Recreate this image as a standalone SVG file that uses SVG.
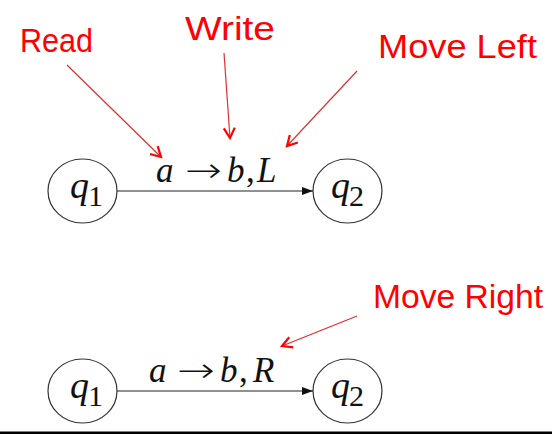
<svg xmlns="http://www.w3.org/2000/svg" width="552" height="434" viewBox="0 0 552 434">
<defs>
<style>
.st{fill:none;stroke:#333;stroke-width:1.2}
.qt{font-family:"Liberation Serif","DejaVu Serif",serif;fill:#111}
.q{font-style:italic;font-size:38px}
.sub{font-size:30px}
.lab{font-family:"Liberation Serif","DejaVu Serif",serif;font-size:35px;fill:#111}
.it{font-style:italic}
.arr{font-family:"DejaVu Sans",sans-serif;font-size:34px;font-weight:200;font-style:normal;fill:#111}
.edge{stroke:#222;stroke-width:1.2;fill:none}
.ann{font-family:"Liberation Sans","DejaVu Sans",sans-serif;font-size:34px;fill:#ff0000}
.rl{stroke:#e03030;stroke-width:1.2;fill:none}
</style>
<marker id="ah" markerUnits="userSpaceOnUse" markerWidth="12" markerHeight="10" refX="11" refY="5" orient="auto">
<path d="M0,1 L11,5 L0,9 Z" fill="#111"/>
</marker>
<marker id="rh" markerUnits="userSpaceOnUse" markerWidth="14" markerHeight="14" refX="11" refY="7" orient="auto">
<path d="M1,1.5 L11,7 L1,12.5" fill="none" stroke="#ff0000" stroke-width="2.2"/>
</marker>
</defs>
<rect width="552" height="434" fill="#ffffff"/>
<rect x="0" y="431.5" width="552" height="2.5" fill="#000"/>

<g id="top-q1">
<ellipse class="st" cx="82.5" cy="191" rx="34.5" ry="32"/>
<text class="qt" x="70" y="198"><tspan class="q">q</tspan><tspan class="sub" dx="-1" dy="8">1</tspan></text>
</g>
<g id="top-q2">
<ellipse class="st" cx="347.5" cy="191" rx="34.5" ry="32"/>
<text class="qt" x="331" y="198"><tspan class="q">q</tspan><tspan class="sub" dx="-1" dy="8">2</tspan></text>
</g>
<g id="bot-q1">
<ellipse class="st" cx="82.5" cy="391" rx="34.5" ry="32"/>
<text class="qt" x="70" y="398"><tspan class="q">q</tspan><tspan class="sub" dx="-1" dy="8">1</tspan></text>
</g>
<g id="bot-q2">
<ellipse class="st" cx="347.5" cy="391" rx="34.5" ry="32"/>
<text class="qt" x="331" y="398"><tspan class="q">q</tspan><tspan class="sub" dx="-1" dy="8">2</tspan></text>
</g>

<g id="connectors">
<line class="edge" x1="117" y1="191" x2="313" y2="191" marker-end="url(#ah)"/>
<line class="edge" x1="117" y1="391" x2="313" y2="391" marker-end="url(#ah)"/>
<line class="rl" x1="67" y1="65" x2="161" y2="157" marker-end="url(#rh)"/>
<line class="rl" x1="224" y1="53" x2="230" y2="138" marker-end="url(#rh)"/>
<line class="rl" x1="357" y1="71" x2="287" y2="146" marker-end="url(#rh)"/>
<line class="rl" x1="357" y1="316" x2="282" y2="346" marker-end="url(#rh)"/>
</g>

<g id="edge-labels">
<text class="lab" y="182"><tspan class="it" x="156">a</tspan><tspan class="arr" x="185" textLength="37" lengthAdjust="spacingAndGlyphs">→</tspan><tspan class="it" x="227">b</tspan><tspan x="246">,</tspan><tspan class="it" x="257">L</tspan></text>
<text class="lab" y="382"><tspan class="it" x="149">a</tspan><tspan class="arr" x="177" textLength="38" lengthAdjust="spacingAndGlyphs">→</tspan><tspan class="it" x="220">b</tspan><tspan x="239">,</tspan><tspan class="it" x="253">R</tspan></text>
</g>

<g id="annotations">
<text class="ann" x="20" y="52" textLength="73" lengthAdjust="spacingAndGlyphs">Read</text>
<text class="ann" x="185" y="40" textLength="90" lengthAdjust="spacingAndGlyphs">Write</text>
<text class="ann" x="378" y="58" textLength="159" lengthAdjust="spacingAndGlyphs">Move Left</text>
<text class="ann" x="373" y="308" textLength="170" lengthAdjust="spacingAndGlyphs">Move Right</text>
</g>
</svg>
